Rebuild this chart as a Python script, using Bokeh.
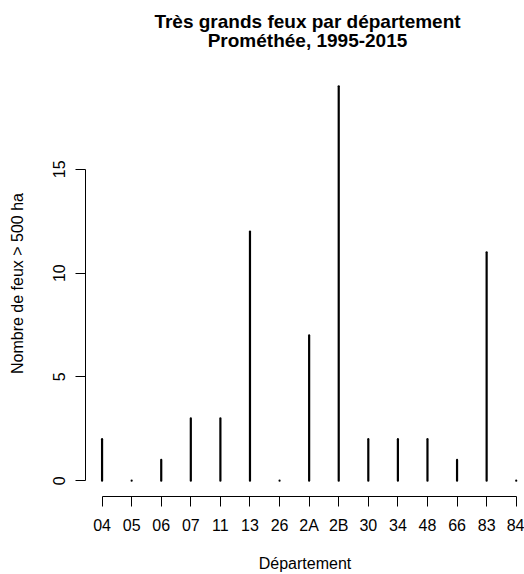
from bokeh.plotting import figure
from bokeh.layouts import column
from bokeh.models import FixedTicker, Range1d, ColumnDataSource, Label
from bokeh.embed import file_html
from bokeh.resources import INLINE

departements = ["04", "05", "06", "07", "11", "13", "26", "2A", "2B",
                "30", "34", "48", "66", "83", "84"]
nb_feux = [2, 0, 1, 3, 3, 12, 0, 7, 19, 2, 2, 2, 1, 11, 0]
y_ticks = [0, 5, 10, 15]

titre_1 = "Très grands feux par département"
titre_2 = "Prométhée, 1995-2015"
x_titre = "Département"
y_titre = "Nombre de feux > 500 ha"

positions = list(range(1, len(departements) + 1))
src = ColumnDataSource(dict(x=positions, y0=[0] * len(positions), y1=nb_feux))

FONT = "Liberation Sans"
W = 524
TITLE_H = 70
LEFT = 85

# ---- title band (two centred bold lines, like R's main title) ----
t = figure(width=W, height=TITLE_H, output_backend="svg", toolbar_location=None,
           x_axis_location=None, y_axis_location=None,
           min_border_left=LEFT, min_border_right=0, min_border_top=0,
           min_border_bottom=0)
t.title.visible = False
t.xgrid.visible = False
t.ygrid.visible = False
t.outline_line_color = None
t.background_fill_color = "white"
t.border_fill_color = "white"
for txt, y_off in ((titre_1, 49), (titre_2, 30)):
    t.add_layout(Label(x=307 - LEFT, y=y_off, x_units="screen", y_units="screen",
                       text=txt, text_align="center", text_baseline="middle",
                       text_font=FONT, text_font_size="19px",
                       text_font_style="bold", text_color="black"))

# ---- main plot ----
p = figure(width=W, height=574 - TITLE_H, output_backend="svg",
           toolbar_location=None,
           x_range=Range1d(0.44, 15.28), y_range=Range1d(-0.76, 19.76),
           min_border_left=LEFT, min_border_right=0, min_border_top=0,
           min_border_bottom=78)
p.title.visible = False

p.segment(x0="x", y0="y0", x1="x", y1="y1", source=src,
          line_width=2.2, line_color="black", line_cap="round")

p.xgrid.visible = False
p.ygrid.visible = False
p.outline_line_color = None
p.background_fill_color = "white"
p.border_fill_color = "white"

xa = p.xaxis[0]
xa.ticker = FixedTicker(ticks=positions)
xa.major_label_overrides = {pos: lab for pos, lab in zip(positions, departements)}
xa.bounds = (positions[0], positions[-1])
xa.axis_label = x_titre

ya = p.yaxis[0]
ya.ticker = FixedTicker(ticks=y_ticks)
ya.bounds = (y_ticks[0], y_ticks[-1])
ya.axis_label = y_titre
ya.major_label_orientation = "vertical"

for ax in (xa, ya):
    ax.axis_line_color = "black"
    ax.axis_line_width = 1
    ax.major_tick_line_color = "black"
    ax.major_tick_in = 0
    ax.major_tick_out = 10
    ax.minor_tick_line_color = None
    ax.major_label_text_font = FONT
    ax.major_label_text_font_size = "16px"
    ax.major_label_text_color = "black"
    ax.axis_label_text_font = FONT
    ax.axis_label_text_font_size = "16px"
    ax.axis_label_text_font_style = "normal"
    ax.axis_label_text_color = "black"

xa.major_label_standoff = 10
xa.axis_label_standoff = 18
ya.major_label_standoff = 10
ya.axis_label_standoff = 25

layout = column(t, p, spacing=0)
open("out.html", "w").write(file_html(layout, INLINE))
